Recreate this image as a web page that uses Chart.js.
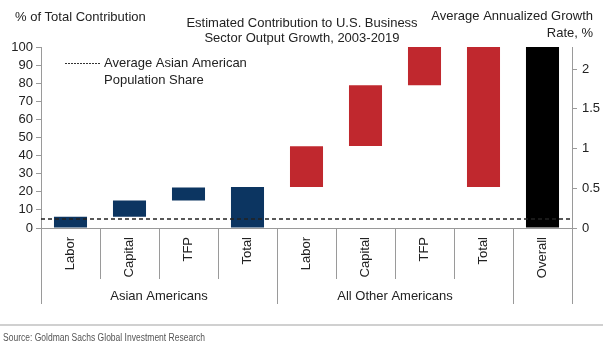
<!DOCTYPE html>
<html>
<head>
<meta charset="utf-8">
<script src="https://cdn.jsdelivr.net/npm/chart.js@4.4.1/dist/chart.umd.min.js"></script>
<style>
  html, body { margin: 0; padding: 0; background: #fff; }
  #wrap { width: 612px; height: 350px; }
</style>
</head>
<body>
<div id="wrap"><canvas id="myChart" width="612" height="350"></canvas></div>
<script>
// data
const categories = ['Labor', 'Capital', 'TFP', 'Total', 'Labor', 'Capital', 'TFP', 'Total', 'Overall'];
const barLows  = [0,   6.2, 15.2, 0,    22.7, 45.3, 78.8, 22.7, 0];
const barHighs = [6.2, 15.2, 22.4, 22.7, 45.2, 78.8, 100,  100,  100];
const groupLabels = ['Asian Americans', 'All Other Americans', ''];
const groupStarts = [0, 4, 8];
const groupEnds   = [3, 7, 8];
const populationShare = 5;
const rightAxisMax = 2.28;

const NAVY = 'rgb(12,53,97)';
const RED = 'rgb(192,40,46)';
const barColors = [NAVY, NAVY, NAVY, NAVY, RED, RED, RED, RED, '#000'];

const FONT = 'Liberation Sans, Arial, sans-serif';
const TEXT = '#222';
const LINE = '#9a9a9a';

// extra drawing: separators, group labels, dashed share line, titles, legend, source
const decor = {
  id: 'decor',
  afterDatasetsDraw(chart) {
    const ctx = chart.ctx;
    const area = chart.chartArea;
    const y = chart.scales.y;
    const yy = y.getPixelForValue(populationShare);
    ctx.save();
    ctx.strokeStyle = '#222';
    ctx.lineWidth = 1.5;
    ctx.setLineDash([4, 3]);
    ctx.beginPath();
    ctx.moveTo(area.left, yy);
    ctx.lineTo(area.right, yy);
    ctx.stroke();
    ctx.restore();
  },
  afterDraw(chart) {
    const ctx = chart.ctx;
    const x = chart.scales.x;
    const area = chart.chartArea;
    const half = (x.getPixelForValue(1) - x.getPixelForValue(0)) / 2;
    const edge = i => i < categories.length ? x.getPixelForValue(i) - half : x.getPixelForValue(categories.length - 1) + half;

    ctx.save();
    // separators
    ctx.strokeStyle = LINE;
    ctx.lineWidth = 1;
    for (let i = 0; i <= categories.length; i++) {
      const long = groupStarts.includes(i) || i === categories.length;
      const px = Math.round(edge(i)) + 0.5;
      ctx.beginPath();
      ctx.moveTo(px, area.bottom);
      ctx.lineTo(px, area.bottom + (long ? 76 : 51));
      ctx.stroke();
    }

    // group labels
    ctx.fillStyle = TEXT;
    ctx.font = '13px ' + FONT;
    ctx.textAlign = 'center';
    ctx.textBaseline = 'middle';
    groupLabels.forEach((g, k) => {
      const cx = (edge(groupStarts[k]) + edge(groupEnds[k] + 1)) / 2;
      ctx.fillText(g, cx, 296);
    });

    // titles
    ctx.textAlign = 'left';
    ctx.fillText('% of Total Contribution', 15, 17);
    ctx.textAlign = 'center';
    ctx.fillText('Estimated Contribution to U.S. Business', 302, 23);
    ctx.fillText('Sector Output Growth, 2003-2019', 302, 38);
    ctx.textAlign = 'right';
    ctx.fillText('Average Annualized Growth', 593, 16);
    ctx.fillText('Rate, %', 593, 33);

    // legend
    ctx.textAlign = 'left';
    ctx.fillText('Average Asian American', 104, 63);
    ctx.fillText('Population Share', 104, 80);
    ctx.strokeStyle = '#333';
    ctx.setLineDash([2, 1]);
    ctx.beginPath();
    ctx.moveTo(65, 63.5);
    ctx.lineTo(100, 63.5);
    ctx.stroke();
    ctx.setLineDash([]);

    // footer
    ctx.strokeStyle = '#d0d0d0';
    ctx.lineWidth = 2;
    ctx.beginPath();
    ctx.moveTo(0, 325);
    ctx.lineTo(603, 325);
    ctx.stroke();

    ctx.fillStyle = '#555';
    ctx.font = '10px "Liberation Sans Narrow", ' + FONT;
    const src = 'Source: Goldman Sachs Global Investment Research';
    const k = 202 / ctx.measureText(src).width;
    ctx.translate(3, 338);
    ctx.scale(k, 1);
    ctx.fillText(src, 0, 0);
    ctx.restore();
  }
};

const tickFont = { family: FONT, size: 13 };

const data = {
  labels: categories,
  datasets: [{
    data: categories.map((c, i) => [barLows[i], barHighs[i]]),
    backgroundColor: barColors,
    borderWidth: 0,
    categoryPercentage: 1,
    barPercentage: 0.56,
    yAxisID: 'y'
  }]
};

const config = {
  type: 'bar',
  data,
  options: {
    responsive: false,
    animation: false,
    layout: { padding: { top: 47, left: 0, right: 0, bottom: 0 } },
    plugins: { legend: { display: false }, tooltip: { enabled: false } },
    scales: {
      x: {
        grid: { display: false },
        border: { display: true, color: LINE },
        ticks: { autoSkip: false, minRotation: 90, maxRotation: 90, padding: 1, color: TEXT, font: tickFont },
        afterFit(s) { s.height = 122; }
      },
      y: {
        position: 'left',
        min: 0, max: 100,
        grid: { drawOnChartArea: false, tickLength: 5, color: LINE },
        border: { color: LINE },
        ticks: { stepSize: 10, autoSkip: false, padding: 3, color: TEXT, font: tickFont },
        afterFit(s) { s.width = 41; }
      },
      y1: {
        position: 'right',
        min: 0, max: rightAxisMax,
        grid: { drawOnChartArea: false, tickLength: 5, color: LINE },
        border: { color: LINE },
        ticks: {
          stepSize: 0.5, includeBounds: false, autoSkip: false, padding: 5, color: TEXT, font: tickFont,
          callback: v => String(+v.toFixed(1))
        },
        afterFit(s) { s.width = 40; }
      }
    }
  },
  plugins: [decor]
};

const myChart = new Chart(document.getElementById('myChart'), config);
</script>
</body>
</html>
